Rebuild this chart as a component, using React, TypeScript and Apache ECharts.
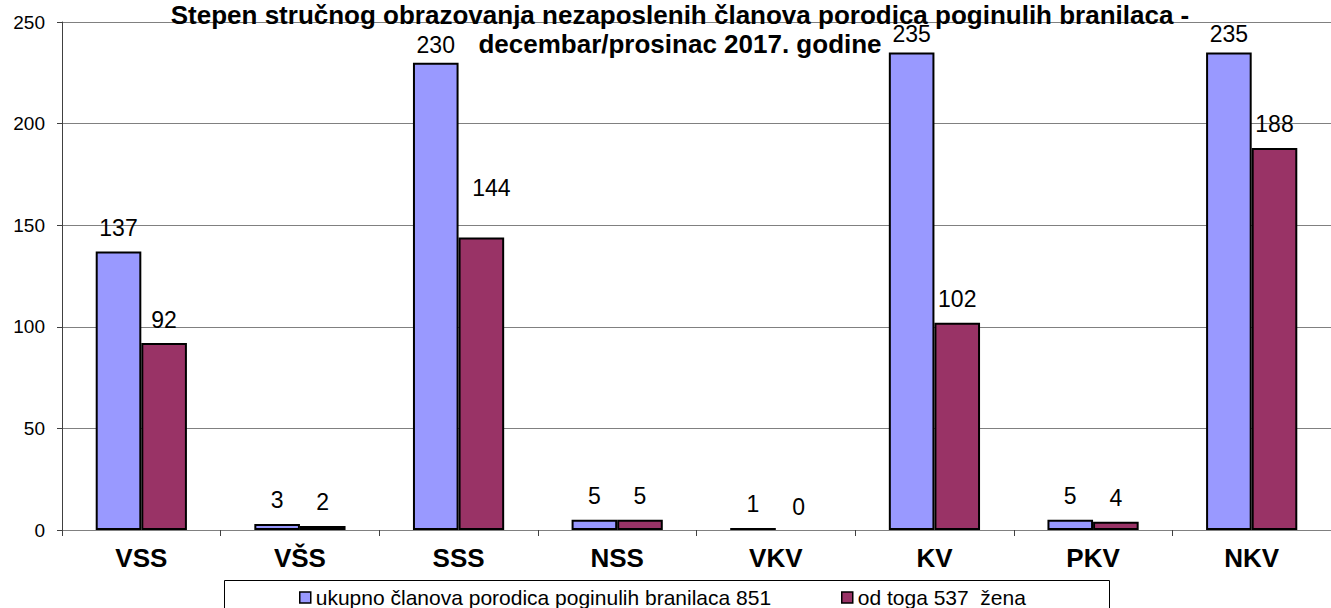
import React, { useEffect, useRef } from "react";
import * as echarts from "echarts";

const categories = ["VSS", "VŠS", "SSS", "NSS", "VKV", "KV", "PKV", "NKV"];
const totalValues = [137, 3, 230, 5, 1, 235, 5, 235];
const womenValues = [92, 2, 144, 5, 0, 102, 4, 188];
const seriesNames = ["ukupno članova porodica poginulih branilaca 851", "od toga 537  žena"];
const titleLines = [
  "Stepen stručnog obrazovanja nezaposlenih članova porodica poginulih branilaca -",
  "decembar/prosinac 2017. godine",
];

const FONT = "'Liberation Sans', Arial, sans-serif";

export default function App() {
  const ref = useRef<HTMLDivElement>(null);
  useEffect(() => {
    if (!ref.current) return;
    const chart = echarts.init(ref.current, null, { renderer: "svg" });

    const labelBase = {
      show: true,
      position: "top",
      distance: 12,
      color: "#000",
      fontSize: 23,
      fontFamily: FONT,
    };
    const blueOverrides: Record<number, any> = { 2: { distance: 6 }, 5: { distance: 7 }, 7: { distance: 7 } };
    const redOverrides: Record<number, any> = { 2: { distance: 38, offset: [10, 0] } };

    const mk = (vals: number[], overrides: Record<number, any>) =>
      vals.map((v, i) => {
        const item: any = { value: v };
        if (overrides[i]) item.label = overrides[i];
        if (v === 0) item.itemStyle = { borderWidth: 0 };
        return item;
      });

    const legendCommon = {
      top: 587,
      padding: 0,
      itemWidth: 11,
      itemHeight: 11,
      icon: "rect",
      itemStyle: { borderWidth: 1.5, borderColor: "#000" },
      textStyle: { fontFamily: FONT, fontSize: 21, color: "#000" },
    };

    chart.setOption({
      animation: false,
      backgroundColor: "#fff",
      title: {
        text: titleLines.join("\n"),
        left: 680,
        top: 0,
        padding: 0,
        textAlign: "center",
        textStyle: {
          fontFamily: FONT,
          fontWeight: "bold",
          fontSize: 26,
          lineHeight: 29,
          color: "#000",
        },
      },
      grid: { left: 62, top: 22, right: -11, bottom: 78, containLabel: false },
      legend: [
        { ...legendCommon, data: [seriesNames[0]], left: 299 },
        { ...legendCommon, data: [seriesNames[1]], left: 841 },
      ],
      graphic: [
        {
          type: "rect",
          left: 222,
          top: 578,
          shape: { width: 885, height: 40 },
          style: { fill: "none", stroke: "#000", lineWidth: 1 },
          z: -1,
        },
      ],
      xAxis: {
        type: "category",
        data: categories,
        boundaryGap: true,
        axisLine: { show: true, lineStyle: { color: "#808080", width: 1 } },
        axisTick: { show: true, length: 6, alignWithLabel: false, lineStyle: { color: "#404040" } },
        axisLabel: {
          margin: 15,
          fontFamily: FONT,
          fontWeight: "bold",
          fontSize: 26,
          color: "#000",
          interval: 0,
        },
      },
      yAxis: {
        type: "value",
        min: 0,
        max: 250,
        interval: 50,
        axisLine: { show: true, lineStyle: { color: "#404040", width: 1 } },
        axisTick: { show: true, length: 5, lineStyle: { color: "#404040" } },
        splitLine: { show: true, lineStyle: { color: "#808080", width: 1 } },
        axisLabel: { margin: 17, fontFamily: FONT, fontSize: 19, color: "#000" },
      },
      series: [
        {
          name: seriesNames[0],
          type: "bar",
          data: mk(totalValues, blueOverrides),
          barWidth: "28.75%",
          barGap: "0%",
          itemStyle: { color: "#9999FF", borderColor: "#000", borderWidth: 2 },
          label: labelBase,
        },
        {
          name: seriesNames[1],
          type: "bar",
          data: mk(womenValues, redOverrides),
          barWidth: "28.75%",
          barGap: "0%",
          itemStyle: { color: "#993366", borderColor: "#000", borderWidth: 2 },
          label: labelBase,
        },
      ],
    });
    return () => chart.dispose();
  }, []);
  return (
    <div
      ref={ref}
      style={{ position: "fixed", left: 0, top: 0, width: 1331, height: 608, background: "#fff" }}
    />
  );
}
